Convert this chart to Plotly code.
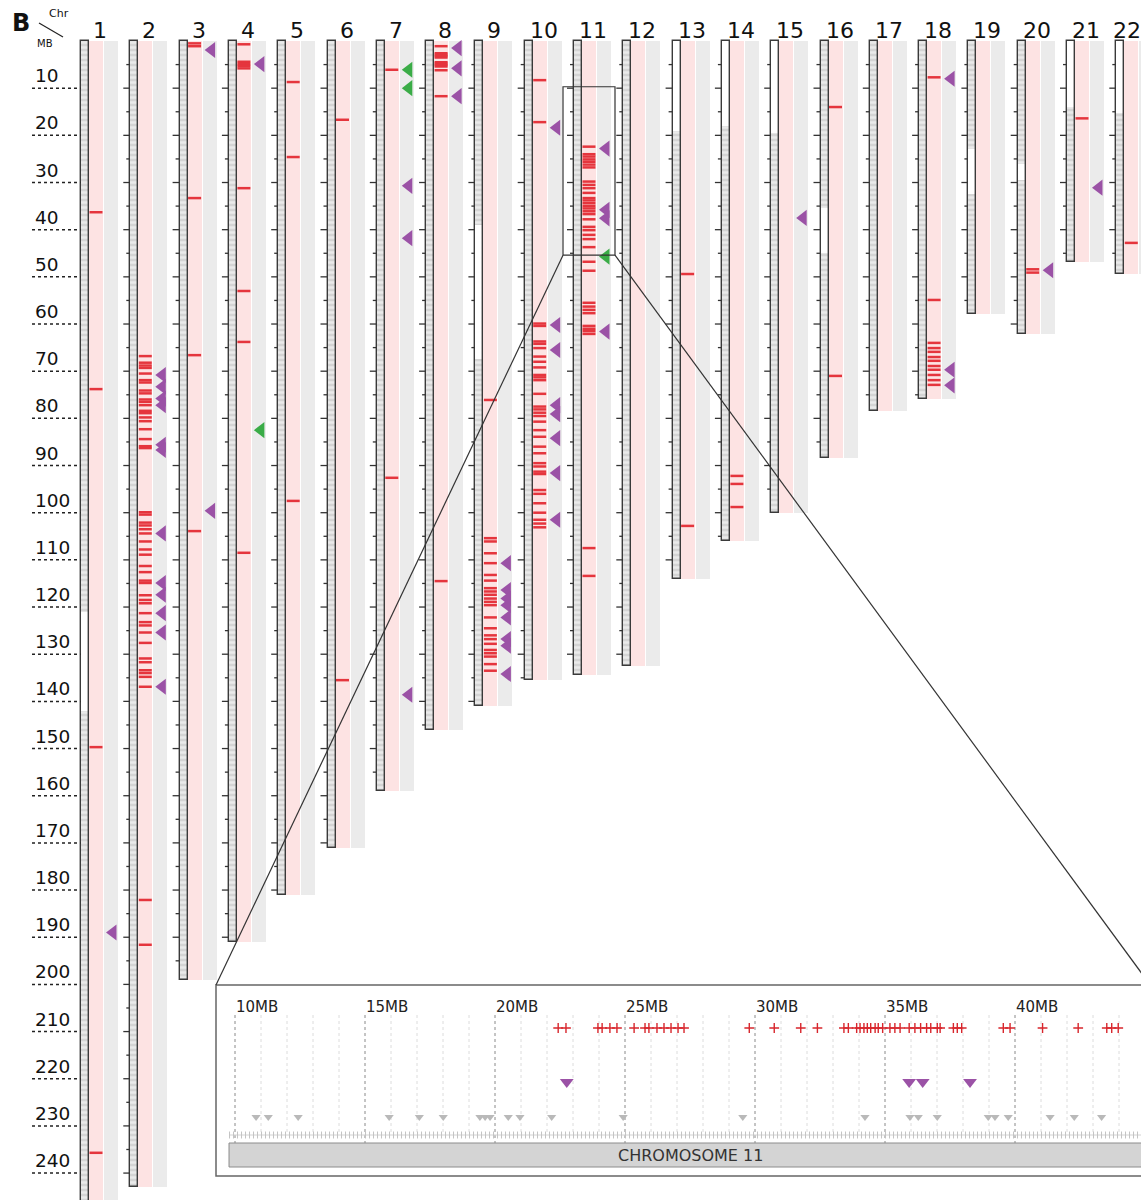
import plotly.graph_objects as go

# ---------------- data ----------------
CHROMS = list(range(1, 23))
CHR_LABELS = [str(c) for c in CHROMS]
LENGTHS_MB = [249.0, 243.0, 199.0, 191.0, 181.0, 171.0, 159.0, 146.0, 141.0, 135.5, 134.5,
              132.5, 114.0, 106.0, 100.0, 88.5, 78.5, 75.8, 57.8, 62.2, 46.8, 49.5]
Y_LABELS = list(range(10, 250, 10))

# heterochromatin / unmapped (white) segments of the chromosome bars
GAP_CHR = [1, 9, 13, 14, 15, 16, 19, 20, 21, 22]
GAP_START = [121.0, 39.0, 0.0, 0.0, 0.0, 35.5, 23.0, 26.0, 0.0, 0.0]
GAP_END = [142.0, 67.5, 19.0, 18.0, 19.5, 45.0, 32.5, 29.5, 14.0, 15.3]

# red marks (MB) per chromosome
RED_1 = [36.3, 73.8, 149.7, 235.7]
RED_2 = [66.8, 68.2, 68.8, 69.3, 70.5, 71.9, 72.4, 74.1, 74.7, 76.0, 76.5, 77.2, 78.4, 78.9,
         79.8, 80.6, 82.3, 84.4, 85.9, 86.3, 99.9, 100.4, 102.1, 102.7, 103.5, 104.4, 106.1,
         107.8, 108.9, 111.3, 112.6, 114.4, 114.9, 117.5, 118.5, 119.2, 121.3, 123.2, 123.9,
         125.4, 127.6, 130.9, 131.7, 133.4, 134.0, 134.8, 136.9, 182.1, 191.6]
RED_3 = [0.5, 1.1, 33.3, 66.6, 103.9]
RED_4 = [0.7, 4.4, 4.9, 5.3, 5.8, 31.2, 53.0, 63.8, 108.5]
RED_5 = [8.7, 24.6, 97.5]
RED_6 = [16.7, 135.5]
RED_7 = [6.1, 92.6]
RED_8 = [1.1, 2.6, 2.9, 3.2, 3.5, 4.5, 4.8, 5.1, 5.4, 6.2, 11.7, 114.5]
RED_9 = [76.1, 105.4, 106.1, 108.6, 110.7, 113.2, 114.4, 116.0, 116.7, 117.4, 118.2, 118.9,
         119.6, 122.2, 124.5, 126.0, 126.8, 127.8, 129.1, 129.8, 130.5, 132.1, 133.5]
RED_10 = [8.3, 17.2, 59.9, 60.4, 63.7, 64.2, 65.1, 66.9, 68.0, 69.2, 70.8, 71.3, 71.9, 74.8,
          77.5, 78.1, 78.8, 79.5, 80.7, 82.5, 83.9, 86.0, 87.4, 89.5, 90.2, 91.3, 91.8, 95.2,
          96.0, 98.0, 100.0, 101.5, 102.3, 103.1]
RED_11 = [22.4, 24.0, 24.5, 25.1, 25.6, 26.2, 26.8, 29.8, 30.5, 31.2, 32.2, 33.3, 33.8, 34.4,
          35.0, 35.5, 36.1, 36.7, 37.8, 39.4, 40.1, 41.1, 42.0, 43.7, 46.8, 48.7, 55.5, 56.3,
          57.0, 57.7, 60.4, 61.0, 61.5, 62.1, 107.5, 113.4]
RED_13 = [49.4, 102.8]
RED_14 = [92.2, 93.9, 98.8]
RED_16 = [14.0, 71.0]
RED_18 = [7.7, 54.9, 64.0, 65.1, 65.9, 67.0, 67.8, 68.9, 69.7, 70.8, 71.9, 72.9]
RED_20 = [48.4, 49.1]
RED_21 = [16.4]
RED_22 = [42.8]

# purple (left-pointing) triangles per chromosome
PURPLE_1 = [189.0]
PURPLE_2 = [70.8, 73.3, 75.8, 77.2, 85.6, 86.7, 104.4, 114.9, 117.4, 121.3, 125.4, 136.9]
PURPLE_3 = [1.9, 99.6]
PURPLE_4 = [4.9]
PURPLE_7 = [30.7, 41.8, 138.6]
PURPLE_8 = [1.5, 5.8, 11.7]
PURPLE_9 = [110.7, 116.4, 118.2, 119.6, 122.2, 126.8, 128.2, 134.2]
PURPLE_10 = [18.4, 60.2, 65.5, 77.2, 79.1, 84.2, 91.6, 101.5]
PURPLE_11 = [22.8, 35.8, 37.6, 61.6]
PURPLE_15 = [37.5]
PURPLE_18 = [8.0, 69.7, 73.0]
PURPLE_20 = [48.6]
PURPLE_21 = [31.1]

# green triangles
GREEN_4 = [82.5]
GREEN_7 = [6.1, 10.0]
GREEN_11 = [45.7]

# zoomed region of chromosome 11 (inset)
ZOOM_CHR = 11
ZOOM_START_MB, ZOOM_END_MB = 9.7, 45.4
INSET_MB_LABELS = [10, 15, 20, 25, 30, 35, 40]
INSET_RED_MB = [22.43, 22.73, 23.96, 24.12, 24.42, 24.69, 25.35, 25.77, 25.92, 26.23, 26.50,
                26.77, 27.04, 27.27, 29.78, 30.74, 31.76, 32.40, 33.42, 33.59, 33.91, 34.04,
                34.19, 34.32, 34.45, 34.62, 34.74, 34.91, 35.19, 35.38, 35.58, 35.93, 36.15,
                36.37, 36.60, 36.76, 37.01, 37.12, 37.63, 37.78, 37.95, 39.55, 39.81, 41.06,
                42.43, 43.53, 43.72, 43.97]
INSET_PURPLE_MB = [22.76, 35.93, 36.45, 38.27]
INSET_GRAY_MB = [10.81, 11.28, 12.43, 15.93, 17.09, 18.01, 19.42, 19.62, 19.81, 20.51, 20.96,
                 22.18, 24.93, 29.53, 34.23, 35.96, 36.28, 37.01, 38.97, 39.23, 39.74, 41.35,
                 42.28, 43.33]
INSET_BAR_MB = [9.77, 45.23]
INSET_TITLE = "CHROMOSOME 11"

RED = {1: RED_1, 2: RED_2, 3: RED_3, 4: RED_4, 5: RED_5, 6: RED_6, 7: RED_7, 8: RED_8,
       9: RED_9, 10: RED_10, 11: RED_11, 13: RED_13, 14: RED_14, 16: RED_16, 18: RED_18,
       20: RED_20, 21: RED_21, 22: RED_22}
PURPLE = {1: PURPLE_1, 2: PURPLE_2, 3: PURPLE_3, 4: PURPLE_4, 7: PURPLE_7, 8: PURPLE_8,
          9: PURPLE_9, 10: PURPLE_10, 11: PURPLE_11, 15: PURPLE_15, 18: PURPLE_18,
          20: PURPLE_20, 21: PURPLE_21}
GREEN = {4: GREEN_4, 7: GREEN_7, 11: GREEN_11}

# ---------------- layout constants ----------------
W, H = 1141, 1200
X0_PX, STEP_PX = 81.0, 49.3       # left edge of chr 1 bar, spacing
Y0_PX, MB_PX = 41.0, 4.717        # 0 MB position, pixels per MB
INSET_L_PX, INSET_T_PX, INSET_B_PX = 216.0, 985.0, 1176.0
INSET_REF_PX, INSET_PX_PER_MB = 235.0, 26.0   # 10 MB position, px per MB
INSET_ROWS = 191.0

PINK = "#fde3e3"
BAND_GRAY = "#ebebeb"
PURPLE_C = "#9b52a6"
GREEN_C = "#3aac47"
RED_C = "#e3232c"
FONT = "DejaVu Sans"


def off(px):
    return px / STEP_PX


def px_x(c):
    return X0_PX + (c - 1) * STEP_PX


def px_y(mb):
    return Y0_PX + mb * MB_PX


fig = go.Figure()

# bands and chromosome bars
fig.add_trace(go.Bar(x=[c + off(15) for c in CHROMS], y=LENGTHS_MB, base=0, width=off(14),
                     marker=dict(color=PINK, line=dict(width=0)), hoverinfo="skip"))
fig.add_trace(go.Bar(x=[c + off(30) for c in CHROMS], y=LENGTHS_MB, base=0, width=off(14),
                     marker=dict(color=BAND_GRAY, line=dict(width=0)), hoverinfo="skip"))
fig.add_trace(go.Bar(x=[c + off(4) for c in CHROMS], y=LENGTHS_MB, base=0, width=off(8),
                     marker=dict(color="#d6d6d6", line=dict(width=0),
                                 pattern=dict(shape="-", bgcolor="#d4d4d4", fgcolor="#ffffff",
                                              size=5, solidity=0.5)),
                     hoverinfo="skip"))
fig.add_trace(go.Bar(x=[c + off(4) for c in GAP_CHR],
                     y=[e - s for s, e in zip(GAP_START, GAP_END)], base=GAP_START,
                     width=off(8), marker=dict(color="white", line=dict(width=0)),
                     hoverinfo="skip"))
fig.add_trace(go.Bar(x=[c + off(4) for c in CHROMS], y=LENGTHS_MB, base=0, width=off(8),
                     marker=dict(color="rgba(0,0,0,0)", line=dict(width=1.4, color="#3a3a3a")),
                     hoverinfo="skip"))

# ticks left of chromosome bars (chr 2..22)
tx, ty = [], []
for c, L in zip(CHROMS, LENGTHS_MB):
    if c == 1:
        continue
    m = 5
    while m < L:
        ln = 7 if m % 10 == 0 else 4
        tx += [c - off(ln), c - off(0.5), None]
        ty += [m, m, None]
        m += 5
fig.add_trace(go.Scatter(x=tx, y=ty, mode="lines", line=dict(color="#333", width=1.3),
                         hoverinfo="skip"))

# dotted y-axis guide lines
dx, dy = [], []
for v in Y_LABELS:
    dx += [1 - off(49), 1 - off(0.5), None]
    dy += [v, v, None]
fig.add_trace(go.Scatter(x=dx, y=dy, mode="lines",
                         line=dict(color="#222", width=1.5, dash="dot"), hoverinfo="skip"))

# red marks
rx, ry = [], []
for c, vals in RED.items():
    for v in vals:
        rx += [c + off(8.5), c + off(21.5), None]
        ry += [v, v, None]
fig.add_trace(go.Scatter(x=rx, y=ry, mode="lines", line=dict(color=RED_C, width=2.5),
                         opacity=0.9, hoverinfo="skip"))

# triangles
for dct, col in ((PURPLE, PURPLE_C), (GREEN, GREEN_C)):
    xs, ys = [], []
    for c, vals in dct.items():
        for v in vals:
            xs.append(c + off(32))
            ys.append(v)
    fig.add_trace(go.Scatter(x=xs, y=ys, mode="markers",
                             marker=dict(symbol="triangle-left", size=14, color=col,
                                         line=dict(width=0)), hoverinfo="skip"))

# ---------------- inset (chromosome 11 zoom) ----------------
IX = "x2"
IY = "y2"
ROW_LABEL, ROW_RED, ROW_PURPLE, ROW_GRAY, ROW_GENES = 22, 43, 97, 132, 150
GRID_TOP, GRID_BOT, FAINT_BOT, BAR_TOP, BAR_BOT = 30, 158, 148, 158, 182

fx, fy = [], []
for m in range(10, 45):
    if m % 5 != 0:
        fx += [m, m, None]
        fy += [GRID_TOP, FAINT_BOT, None]
fig.add_trace(go.Scatter(x=fx, y=fy, mode="lines", xaxis=IX, yaxis=IY,
                         line=dict(color="#dcdcdc", width=1, dash="dot"), hoverinfo="skip"))
gx, gy = [], []
for m in INSET_MB_LABELS:
    gx += [m, m, None]
    gy += [GRID_TOP, GRID_BOT, None]
fig.add_trace(go.Scatter(x=gx, y=gy, mode="lines", xaxis=IX, yaxis=IY,
                         line=dict(color="#8a8a8a", width=1, dash="dot"), hoverinfo="skip"))

# gene row (light gray tick texture)
fig.add_trace(go.Scatter(x=[INSET_BAR_MB[0], INSET_BAR_MB[1]], y=[ROW_GENES, ROW_GENES],
                         mode="lines", xaxis=IX, yaxis=IY,
                         line=dict(color="#d2d2d2", width=1), hoverinfo="skip"))
fig.add_trace(go.Scatter(x=[INSET_BAR_MB[0], INSET_BAR_MB[1]], y=[ROW_GENES, ROW_GENES],
                         mode="lines", xaxis=IX, yaxis=IY,
                         line=dict(color="#c4c4c4", width=7, dash="1px,3px"), hoverinfo="skip"))

fig.add_trace(go.Scatter(x=INSET_RED_MB, y=[ROW_RED] * len(INSET_RED_MB), mode="markers",
                         xaxis=IX, yaxis=IY,
                         marker=dict(symbol="cross-thin", size=7,
                                     line=dict(color="#d8262c", width=1.4)),
                         hoverinfo="skip"))
fig.add_trace(go.Scatter(x=INSET_PURPLE_MB, y=[ROW_PURPLE] * len(INSET_PURPLE_MB),
                         mode="markers", xaxis=IX, yaxis=IY,
                         marker=dict(symbol="triangle-down", size=12, color=PURPLE_C),
                         hoverinfo="skip"))
fig.add_trace(go.Scatter(x=INSET_GRAY_MB, y=[ROW_GRAY] * len(INSET_GRAY_MB),
                         mode="markers", xaxis=IX, yaxis=IY,
                         marker=dict(symbol="triangle-down", size=8, color="#b9b9b9"),
                         hoverinfo="skip"))

shapes = []
# inset box
shapes.append(dict(type="rect", xref="x2 domain", yref="y2 domain", x0=0, x1=1.01, y0=0, y1=1,
                   line=dict(color="#666", width=1.5), fillcolor="white", layer="below"))
# chromosome bar in inset
shapes.append(dict(type="rect", xref=IX, yref=IY, x0=INSET_BAR_MB[0], x1=INSET_BAR_MB[1],
                   y0=BAR_TOP, y1=BAR_BOT, line=dict(color="#8c8c8c", width=1),
                   fillcolor="#d4d4d4", layer="above"))
# zoom rectangle on chromosome 11
shapes.append(dict(type="rect", xref="x", yref="y", x0=ZOOM_CHR - off(11),
                   x1=ZOOM_CHR + off(41), y0=ZOOM_START_MB, y1=ZOOM_END_MB,
                   line=dict(color="#333", width=1.2), layer="above"))
# connector lines (paper coordinates)
rx0, rx1 = px_x(ZOOM_CHR - off(11)), px_x(ZOOM_CHR + off(41))
ry = px_y(ZOOM_END_MB)
inset_right_px = INSET_L_PX + 1.01 * (W - INSET_L_PX)
for a, b in ((rx0, INSET_L_PX), (rx1, inset_right_px)):
    shapes.append(dict(type="line", xref="paper", yref="paper", x0=a / W, y0=1 - ry / H,
                       x1=b / W, y1=1 - INSET_T_PX / H, line=dict(color="#333", width=1.2),
                       layer="above"))
# header diagonal
shapes.append(dict(type="line", xref="paper", yref="paper", x0=39 / W, y0=1 - 23 / H,
                   x1=63 / W, y1=1 - 37 / H, line=dict(color="#222", width=1.2)))

ann = []
for c, lab in zip(CHROMS, CHR_LABELS):
    xs_shift = -8 if c == 22 else 0
    ann.append(dict(x=c + off(19), y=-2.2, xref="x", yref="y", text=lab, showarrow=False,
                    xanchor="center", yanchor="middle", xshift=xs_shift,
                    font=dict(family=FONT, size=22, color="#111")))
for v in Y_LABELS:
    ann.append(dict(x=1 - off(48), y=v, xref="x", yref="y", text=str(v), showarrow=False,
                    xanchor="left", yanchor="bottom", font=dict(family=FONT, size=18.5,
                                                                color="#111")))
for m in INSET_MB_LABELS:
    ann.append(dict(x=m, y=ROW_LABEL, xref=IX, yref=IY, text=f"{m}MB", showarrow=False,
                    xanchor="left", yanchor="middle", xshift=-1,
                    font=dict(family=FONT, size=15, color="#222")))
ann.append(dict(x=sum(INSET_BAR_MB) / 2, y=(BAR_TOP + BAR_BOT) / 2, xref=IX, yref=IY,
                text=INSET_TITLE, showarrow=False, xanchor="center", yanchor="middle",
                font=dict(family=FONT, size=16, color="#333")))
ann.append(dict(x=10 / W, y=1 - 23 / H, xref="paper", yref="paper", text="<b>B</b>",
                showarrow=False, xanchor="left", yanchor="middle",
                font=dict(family=FONT, size=24, color="#111")))
ann.append(dict(x=47 / W, y=1 - 13 / H, xref="paper", yref="paper", text="Chr",
                showarrow=False, xanchor="left", yanchor="middle",
                font=dict(family=FONT, size=11, color="#111")))
ann.append(dict(x=35 / W, y=1 - 44 / H, xref="paper", yref="paper", text="MB",
                showarrow=False, xanchor="left", yanchor="middle",
                font=dict(family=FONT, size=10, color="#111")))

fig.update_layout(
    width=W, height=H, autosize=False,
    margin=dict(l=0, r=0, t=0, b=0, pad=0),
    paper_bgcolor="white", plot_bgcolor="rgba(0,0,0,0)",
    showlegend=False, barmode="overlay", bargap=0,
    xaxis=dict(domain=[0, 1], range=[1 - X0_PX / STEP_PX, 1 + (W - X0_PX) / STEP_PX],
               visible=False, fixedrange=True),
    yaxis=dict(domain=[0, 1], range=[(H - Y0_PX) / MB_PX, -Y0_PX / MB_PX],
               visible=False, fixedrange=True),
    xaxis2=dict(domain=[INSET_L_PX / W, 1], anchor="y2",
                range=[10 + (INSET_L_PX - INSET_REF_PX) / INSET_PX_PER_MB,
                       10 + (W - INSET_REF_PX) / INSET_PX_PER_MB],
                visible=False, fixedrange=True),
    yaxis2=dict(domain=[1 - INSET_B_PX / H, 1 - INSET_T_PX / H], anchor="x2",
                range=[INSET_ROWS, 0], visible=False, fixedrange=True),
    shapes=shapes, annotations=ann,
)

fig.write_html("out.html", config={"displayModeBar": False},
               post_script="document.body.style.margin='0';")
